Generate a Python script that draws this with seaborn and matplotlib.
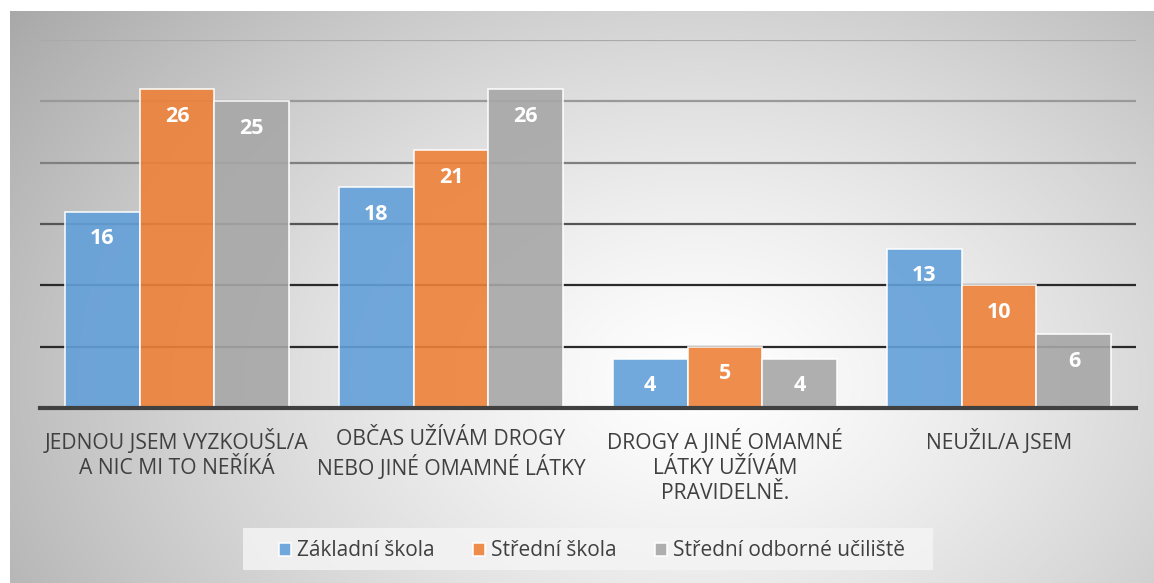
import numpy as np
import pandas as pd
import matplotlib
matplotlib.use("Agg")
import matplotlib.pyplot as plt
import matplotlib.patches as mpatches
import seaborn as sns

categories = [
    "JEDNOU JSEM VYZKOUŠL/A\nA NIC MI TO NEŘÍKÁ",
    "OBČAS UŽÍVÁM DROGY\nNEBO JINÉ OMAMNÉ LÁTKY",
    "DROGY A JINÉ OMAMNÉ\nLÁTKY UŽÍVÁM\nPRAVIDELNĚ.",
    "NEUŽIL/A JSEM",
]
series_names = ["Základní škola", "Střední škola", "Střední odborné učiliště"]
zakladni = [16, 18, 4, 13]
stredni = [26, 21, 5, 10]
sou = [25, 26, 4, 6]

rows = []
for name, vals in zip(series_names, [zakladni, stredni, sou]):
    for c, v in zip(categories, vals):
        rows.append({"cat": c, "series": name, "value": v})
df = pd.DataFrame(rows)

sns.set_theme(style="white")
plt.rcParams["font.family"] = ["Open Sans", "DejaVu Sans"]

W, H = 1154, 583
fig = plt.figure(figsize=(W / 100, H / 100), dpi=100)
fig.patch.set_facecolor("white")

# background panel with gradient
bg = fig.add_axes([10 / W, 0, 1 - 10 / W, (H - 11) / H], zorder=-10)
bw, bh = W - 10, H - 11
yy, xx = np.mgrid[0:bh, 0:bw]
cx, cy = 700 - 10, 380 - 11
r = np.sqrt(((xx - cx) / 720) ** 2 + ((yy - cy) / 520) ** 2)
val = 1.0 - 0.27 * np.clip(r, 0, 1.2) ** 1.3
bg.imshow(np.dstack([val, val, val]), aspect="auto", extent=[0, 1, 0, 1], origin="upper")
bg.set_axis_off()

ax = fig.add_axes([40 / W, (H - 408) / H, (1136 - 40) / W, (408 - 40) / H])
ax.patch.set_alpha(0)

palette = ["#63A0D9", "#EE8139", "#A7A7A7"]
sns.barplot(data=df, x="cat", y="value", hue="series", palette=palette, saturation=1,
            width=0.82, gap=0, alpha=0.9, edgecolor=(1, 1, 1, 0.35), linewidth=1.2,
            ax=ax, legend=True)

ax.set_ylim(0, 30)
ax.set_xlim(-0.5, len(categories) - 0.5)
ax.set_yticks([0, 5, 10, 15, 20, 25, 30])
ax.set_yticklabels([])
ax.tick_params(axis="y", length=0)
ax.tick_params(axis="x", length=0, pad=15)
ax.set_axisbelow(True)
ax.grid(axis="y", linewidth=1.6)
grid_cols = ["#404040", "#2a2a2a", "#2a2a2a", "#555555", "#808080", "#999999", "#aaaaaa"]
for gl, col in zip(ax.get_ygridlines(), grid_cols):
    gl.set_color(col)
for s in ["top", "right", "left"]:
    ax.spines[s].set_visible(False)
ax.spines["bottom"].set_color("#404040")
ax.spines["bottom"].set_linewidth(3)
ax.set_xlabel("")
ax.set_ylabel("")

for lab in ax.get_xticklabels():
    lab.set_fontsize(15.2)
    lab.set_color("#404040")
    lab.set_linespacing(1.25)

for cont in ax.containers:
    for bar in cont:
        h = bar.get_height()
        ax.annotate(f"{h:.0f}", (bar.get_x() + bar.get_width() / 2, h),
                    xytext=(0, -27), textcoords="offset pixels",
                    ha="center", va="center", color="white",
                    fontsize=15.5, fontweight="bold")

handles, labels = ax.get_legend_handles_labels()
ax.legend_.remove()
# legend background box
fig.patches.append(mpatches.Rectangle((243 / W, (H - 570) / H), (933 - 243) / W, 42 / H,
                                      transform=fig.transFigure, facecolor="#f4f4f4",
                                      edgecolor="none", alpha=0.85, zorder=-5))
leg = fig.legend(handles, labels, loc="center", bbox_to_anchor=(592 / W, (H - 551) / H),
                 ncol=3, frameon=False, fontsize=15.0, handlelength=0.6, handleheight=0.6,
                 columnspacing=1.8, handletextpad=0.3)
for t in leg.get_texts():
    t.set_color("#404040")

fig.savefig("out.png", dpi=100)
